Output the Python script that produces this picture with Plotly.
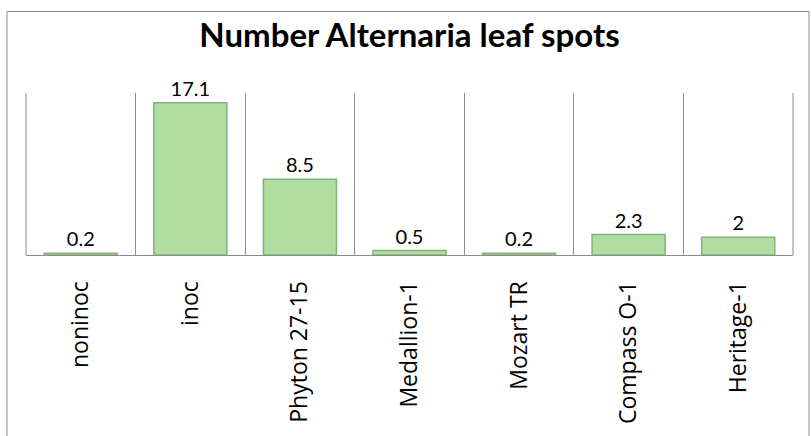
import plotly.graph_objects as go

# data
treatments = ['noninoc', 'inoc', 'Phyton 27-15', 'Medallion-1', 'Mozart TR', 'Compass O-1', 'Heritage-1']
leaf_spots = [0.2, 17.1, 8.5, 0.5, 0.2, 2.3, 2]
value_labels = ['0.2', '17.1', '8.5', '0.5', '0.2', '2.3', '2']

fig = go.Figure(go.Bar(
    x=treatments,
    y=leaf_spots,
    text=value_labels,
    textposition='outside',
    textfont=dict(family='Lato', size=20, color='black'),
    marker=dict(color='#b0dda1', line=dict(color='#86b178', width=1.5)),
    cliponaxis=False,
))

grey = '#8c8c8c'

# outer chart frame, cut off at the bottom like the reference
fig.add_shape(type='rect', xref='paper', yref='paper',
              x0=-0.0248, x1=1.0209, y0=-1.2, y1=1.503,
              line=dict(color=grey, width=1), layer='below')
# left / right edges of the plot area (category boundaries)
for edge in (0, 1):
    fig.add_shape(type='line', xref='paper', yref='paper',
                  x0=edge, x1=edge, y0=0, y1=1,
                  line=dict(color=grey, width=1), layer='below')

fig.update_layout(
    width=811, height=436,
    margin=dict(l=26, r=18, t=93, b=178),
    paper_bgcolor='white', plot_bgcolor='white',
    showlegend=False,
    bargap=0.333,
    title=dict(text='<b>Number Alternaria leaf spots</b>',
               x=0.505, xanchor='center', y=1 - 35 / 436, yanchor='middle',
               font=dict(family='Lato', size=33, color='black')),
    xaxis=dict(tickson='boundaries', showgrid=True, gridcolor=grey, gridwidth=1,
               showline=True, linecolor=grey, linewidth=1,
               ticks='', tickangle=-90, ticklabelstandoff=16,
               tickfont=dict(family='Open Sans', size=23, color='black')),
    yaxis=dict(range=[0, 18.2], visible=False, showgrid=False, zeroline=False),
)

fig.write_html('out.html', config={'displayModeBar': False},
               post_script="document.body.style.margin='0';")
